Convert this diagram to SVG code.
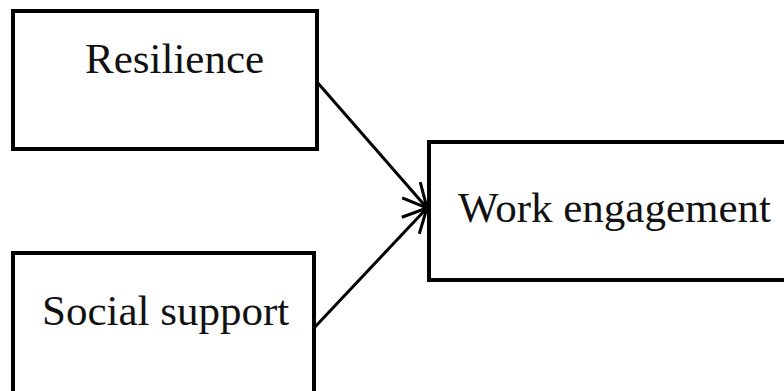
<svg xmlns="http://www.w3.org/2000/svg" width="784" height="391" viewBox="0 0 784 391">
<style>
.box{fill:#fff;stroke:#000;stroke-width:4}
.lbl{font-family:"Liberation Serif","Times New Roman",serif;font-size:43px;fill:#111}
.conn{stroke:#000;stroke-width:3;fill:none}
</style>
<defs>
<marker id="arr" markerUnits="userSpaceOnUse" markerWidth="40" markerHeight="40" refX="30" refY="20" orient="auto" overflow="visible">
<path d="M6,8 L30,20 L6,32" fill="none" stroke="#000" stroke-width="3"/>
</marker>
</defs>
<rect width="784" height="391" fill="#fff"/>
<g id="resilience">
<rect class="box" x="13" y="11" width="304" height="138"/>
<text class="lbl" x="85" y="73">Resilience</text>
</g>
<g id="social-support">
<rect class="box" x="13" y="253" width="301" height="145"/>
<text class="lbl" x="42" y="325">Social support</text>
</g>
<g id="work-engagement">
<rect class="box" x="429" y="142" width="370" height="138"/>
<text class="lbl" x="458" y="222">Work engagement</text>
</g>
<g id="connectors">
<line class="conn" x1="317" y1="82" x2="427" y2="208" marker-end="url(#arr)"/>
<line class="conn" x1="314" y1="328" x2="427" y2="208" marker-end="url(#arr)"/>
</g>
</svg>
